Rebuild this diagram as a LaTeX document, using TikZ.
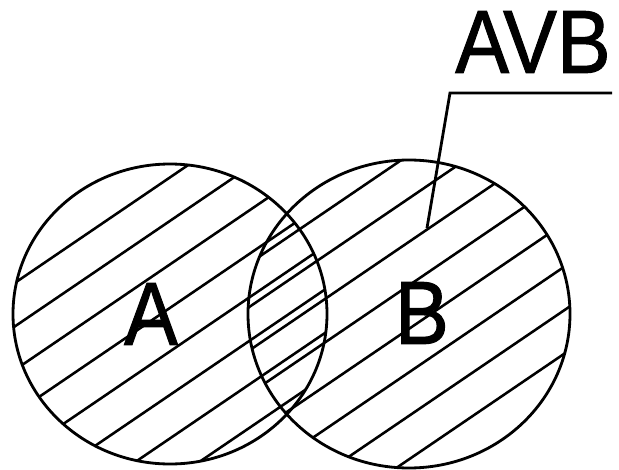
\documentclass[tikz,border=0pt]{standalone}
\usepackage{graphicx}
\usepackage{fontspec}
\setmainfont{Liberation Sans}
\newfontfamily\labelfont[FakeBold=1.2]{Liberation Sans}

\tikzset{
  hatch/.style={line width=1.45pt},
  setline/.style={line width=1.6pt},
  letter/.style={inner sep=0pt, font=\labelfont\fontsize{51}{60}\selectfont}
}

\begin{document}
\begin{tikzpicture}[x=0.02cm, y=-0.02cm]
    \useasboundingbox (0,0) rectangle (619,470);

    % Centres
    \coordinate (ca) at (170,314);
    \coordinate (cb) at (409,314);

    % Hatching of A
    \begin{scope}
        \clip (ca) ellipse [x radius=157, y radius=150];
        \foreach \k in {0,...,7}
            \draw[hatch] (0,293+43.5*\k) -- (619,293+43.5*\k-421);
    \end{scope}

    % Hatching of B
    \begin{scope}
        \clip (cb) ellipse [x radius=161, y radius=154];
        \foreach \k in {-2,...,5}
            \draw[hatch] (0,520+43.5*\k) -- (619,520+43.5*\k-421);
    \end{scope}

    % Sets
    \draw[setline] (ca) ellipse [x radius=157, y radius=150];
    \draw[setline] (cb) ellipse [x radius=161, y radius=154];

    % Labels
    \node[letter] (la) at (151,314) {\scalebox{0.9}[1]{A}};
    \node[letter] (lb) at (422,313) {\scalebox{0.9}[1]{B}};
    \node[letter] (avb) at (533,42) {\scalebox{0.9}[1]{AVB}};

    % Leader
    \coordinate (tip) at (427,228);
    \coordinate (knee) at (450,93);
    \coordinate (tail) at (612,93);
    \draw[setline] (tip) -- (knee) -- (tail);
\end{tikzpicture}
\end{document}
